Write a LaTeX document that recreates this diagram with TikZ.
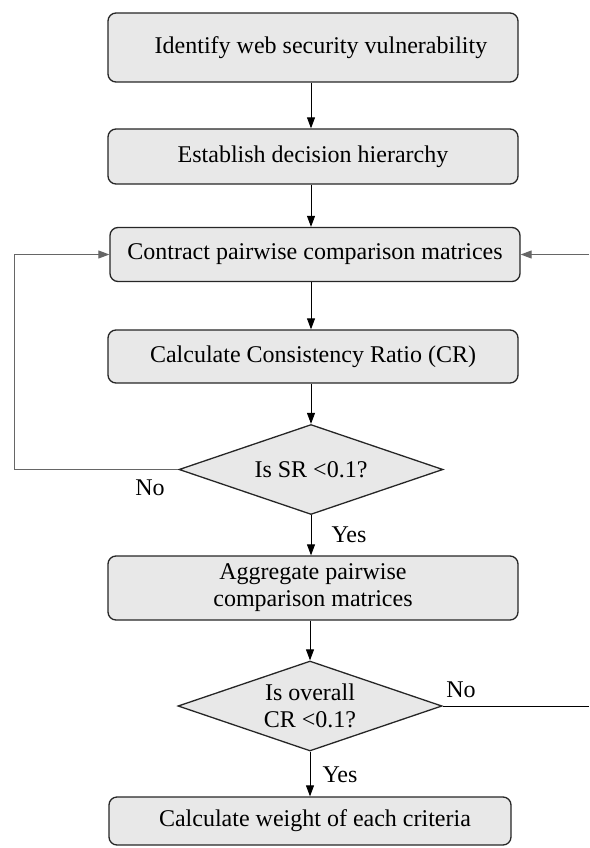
\documentclass[tikz,border=0pt]{standalone}
\usepackage{fontspec}
\setmainfont{Liberation Serif}
\usetikzlibrary{shapes.geometric,arrows.meta}
\begin{document}
\begin{tikzpicture}[x=1pt,y=-1pt,
  font=\fontsize{24}{27}\selectfont,
  stepbox/.style={draw=black!85, line width=1.3pt, fill=gray!18,
    rounded corners=8pt, minimum width=410pt, inner sep=0pt, align=center},
  decision/.style={draw=black!85, line width=1.3pt, fill=gray!18,
    shape=diamond, minimum width=264pt, minimum height=90pt, inner sep=0pt},
  flow/.style={line width=0.9pt, -{Triangle[length=11pt,width=8pt]}},
  loopline/.style={line width=1pt, draw=black!60},
  tag/.style={inner sep=0pt}
]
\useasboundingbox (0,0) rectangle (589,848);

% process steps and decisions
\node[stepbox, minimum height=69pt] (b1) at (313,47.5) {\hspace*{16pt}Identify web security vulnerability};
\node[stepbox, minimum height=55pt] (b2) at (313,156.5) {Establish decision hierarchy};
\node[stepbox, minimum height=54pt] (b3) at (315,254.5) {Contract pairwise comparison matrices};
\node[stepbox, minimum height=53pt] (b4) at (313,356.5) {Calculate Consistency Ratio (CR)};
\node[decision] (d1) at (311,469.5) {};
\node[align=center] (d1t) at (d1) {Is SR <0.1?};
\node[stepbox, minimum height=64pt] (b5) at (313,588) {Aggregate pairwise\\comparison matrices};
\node[decision] (d2) at (310,706) {};
\node[align=center] (d2t) at (d2) {Is overall\\CR <0.1?};
\node[stepbox, minimum height=48pt, minimum width=402pt] (b6) at (310,821) {\hspace*{10pt}Calculate weight of each criteria};

% main flow
\draw[flow] (b1.south -| 311,0) -- (b2.north -| 311,0);
\draw[flow] (b2.south -| 311,0) -- (b3.north -| 311,0);
\draw[flow] (b3.south -| 311,0) -- (b4.north -| 311,0);
\draw[flow] (b4.south -| d1.north) -- (d1.north);
\draw[flow] (d1.south) -- (d1.south |- b5.north);
\draw[flow] (b5.south -| d2.north) -- (d2.north);
\draw[flow] (d2.south) -- (d2.south |- b6.north);

% feedback loops
\coordinate (loopL) at (14,0);
\coordinate (edgeR) at (589,0);
\draw[loopline, -{Triangle[length=11pt,width=8pt]}]
  (d1.west) -- (d1.west -| loopL) |- (b3.west);
\draw[line width=0.9pt] (d2.east) -- (d2.east -| edgeR);
\draw[loopline, -{Triangle[length=11pt,width=8pt]}]
  (b3.east -| edgeR) -- (b3.east);

% branch labels
\node[tag] (no1) at (150,488) {No};
\node[tag] (yes1) at (349,535) {Yes};
\node[tag] (no2) at (461,690) {No};
\node[tag] (yes2) at (340,775) {Yes};
\end{tikzpicture}
\end{document}
